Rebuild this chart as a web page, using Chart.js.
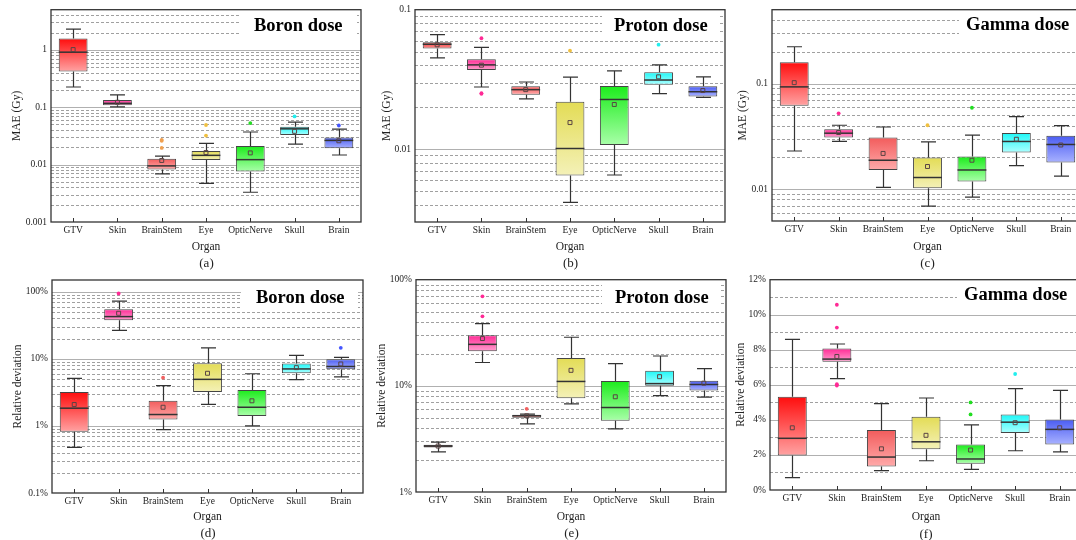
<!DOCTYPE html>
<html><head><meta charset="utf-8">
<script src="https://cdn.jsdelivr.net/npm/chart.js@4/dist/chart.umd.min.js"></script>
<style>
html,body{margin:0;padding:0;background:#fff;overflow:hidden;width:1076px;height:540px;position:relative}
.lab{position:absolute;font:13px "Liberation Serif","Times New Roman",serif;color:#222;transform:translate(-50%,-50%);white-space:nowrap}
</style></head><body>
<script>
// ---------------- DATA ----------------
const organs = ['GTV','Skin','BrainStem','Eye','OpticNerve','Skull','Brain'];

// (a) Boron dose, MAE (Gy)
const aMin  = [0.225, 0.101, 0.0069, 0.0047, 0.0033, 0.0228, 0.0147];
const aQ1   = [0.42, 0.108, 0.0082, 0.012, 0.0076, 0.0327, 0.0192];
const aMed  = [0.91, 0.117, 0.0095, 0.0145, 0.0122, 0.042, 0.0264];
const aQ3   = [1.57, 0.134, 0.0126, 0.0173, 0.021, 0.0456, 0.0298];
const aMax  = [2.3, 0.164, 0.014, 0.0234, 0.037, 0.055, 0.0415];
const aMean = [1.01, 0.122, 0.0118, 0.0162, 0.016, 0.038, 0.026];
const aOut  = [[], [], [0.027, 0.026, 0.0195], [0.049, 0.032], [0.053], [0.069], [0.048]];
const aTicks = [0.001, 0.01, 0.1, 1];

// (b) Proton dose, MAE (Gy)
const bMin  = [0.0451, 0.0279, 0.0229, 0.00415, 0.00652, 0.025, 0.0235];
const bQ1   = [0.0526, 0.037, 0.0245, 0.00647, 0.0107, 0.029, 0.0238];
const bMed  = [0.0565, 0.0402, 0.0267, 0.0101, 0.0227, 0.0313, 0.0258];
const bQ3   = [0.0583, 0.0441, 0.0282, 0.0219, 0.0284, 0.0356, 0.0282];
const bMax  = [0.0662, 0.0537, 0.0303, 0.0328, 0.0364, 0.0402, 0.033];
const bMean = [0.056, 0.040, 0.0267, 0.0155, 0.0209, 0.033, 0.0263];
const bOut  = [[], [0.0624, 0.0252, 0.0249], [], [0.0508], [], [0.0561], []];
const bTicks = [0.01, 0.1];

// (c) Gamma dose, MAE (Gy)
const cMin  = [0.023, 0.0283, 0.0104, 0.0069, 0.0084, 0.0167, 0.0133];
const cQ1   = [0.0617, 0.0308, 0.0152, 0.0102, 0.0118, 0.0223, 0.0179];
const cMed  = [0.093, 0.0339, 0.0188, 0.0129, 0.0152, 0.0283, 0.0265];
const cQ3   = [0.159, 0.0369, 0.0308, 0.02, 0.0204, 0.0341, 0.032];
const cMax  = [0.223, 0.0403, 0.0388, 0.0281, 0.0325, 0.0486, 0.04];
const cMean = [0.102, 0.0344, 0.0218, 0.0164, 0.0188, 0.0297, 0.0262];
const cOut  = [[], [0.0522], [], [0.0403], [0.059], [], []];
const cTicks = [0.01, 0.1];

// (d) Boron dose, relative deviation (%)
const dMin  = [0.48, 26.6, 0.88, 2.1, 1.0, 4.9, 5.4];
const dQ1   = [0.82, 37.6, 1.245, 3.2, 1.41, 6.1, 7.0];
const dMed  = [1.84, 42.7, 1.48, 4.95, 1.9, 7.08, 7.7];
const dQ3   = [3.2, 55, 2.37, 8.6, 3.43, 8.5, 9.9];
const dMax  = [5.13, 72.4, 3.98, 14.6, 6.0, 11.3, 10.5];
const dMean = [2.09, 47.9, 1.9, 6.1, 2.37, 7.4, 8.4];
const dOut  = [[], [94.4], [5.25], [], [], [], [14.6]];
const dTicks = [0.1, 1, 10, 100];

// (e) Proton dose, relative deviation (%)
const eMin  = [2.39, 16.6, 4.39, 6.77, 3.94, 8.1, 7.82];
const eQ1   = [2.63, 21.2, 5.0, 7.66, 4.69, 10.0, 9.04];
const eMed  = [2.71, 24.6, 5.22, 11.0, 6.25, 10.5, 10.3];
const eQ3   = [2.79, 29.9, 5.34, 18.3, 11.1, 13.9, 11.2];
const eMax  = [2.95, 38.6, 5.42, 28.7, 16.2, 19.1, 14.5];
const eMean = [2.71, 27.9, 5.22, 14.0, 7.89, 12.2, 10.6];
const eOut  = [[], [69.7, 45.2], [6.08], [], [], [], []];
const eTicks = [1, 10, 100];

// (f) Gamma dose, relative deviation (%)
const fMin  = [0.71, 6.36, 1.11, 1.67, 1.18, 2.24, 2.18];
const fQ1   = [1.97, 7.32, 1.34, 2.33, 1.5, 3.25, 2.6];
const fMed  = [2.95, 7.47, 1.88, 2.75, 1.77, 3.87, 3.46];
const fQ3   = [5.32, 8.07, 3.42, 4.18, 2.6, 4.31, 4.02];
const fMax  = [8.6, 8.33, 4.93, 5.25, 3.72, 5.79, 5.68];
const fMean = [3.55, 7.62, 2.35, 3.12, 2.28, 3.84, 3.55];
const fOut  = [[], [10.57, 9.27, 6.04, 5.96], [], [], [4.31, 5.0], [6.62], []];
const fTicks = [0, 2, 4, 6, 8, 10, 12];

// ---------------- STYLE ----------------
const baseFill = [
  ['#ff0d0d', '#ffa3a3'],
  ['#ff2a95', '#ff9fce'],
  ['#f25c5c', '#ffaaaa'],
  ['#e3dc55', '#f4f1b8'],
  ['#1cec1c', '#a9ffa9'],
  ['#1cf7f7', '#adffff'],
  ['#4a5cf2', '#a9b2ff']
];
const baseOut = ['#ff2020', '#ff2a95', '#f26060', '#f0c040', '#22dd22', '#22eeee', '#4455ff'];

Chart.defaults.font.family = '"Liberation Serif","Times New Roman",serif';
Chart.defaults.color = '#222';

function logGrid(min, max) {
  const major = [], minor = [];
  for (let e = Math.floor(Math.log10(min)); e <= Math.ceil(Math.log10(max)); e++) {
    for (let k = 1; k <= 9; k++) {
      const v = +(k * Math.pow(10, e)).toPrecision(6);
      if (v <= min * 1.0001 || v >= max * 0.9999) continue;
      (k === 1 ? major : minor).push(v);
    }
  }
  return {major, minor};
}

const boxPlugin = {
  id: 'boxExtras',
  beforeDatasetsDraw(chart, args, o) {
    const {ctx, chartArea: a, scales: {y}} = chart;
    ctx.save();
    ctx.lineWidth = 1;
    ctx.strokeStyle = '#a0a0a0';
    ctx.setLineDash([3, 2]);
    o.minor.forEach(v => {
      const p = Math.round(y.getPixelForValue(v)) + 0.5;
      ctx.beginPath(); ctx.moveTo(a.left, p); ctx.lineTo(a.right, p); ctx.stroke();
    });
    ctx.setLineDash([]);
    ctx.strokeStyle = '#b0b0b0';
    o.major.forEach(v => {
      const p = Math.round(y.getPixelForValue(v)) + 0.5;
      ctx.beginPath(); ctx.moveTo(a.left, p); ctx.lineTo(a.right, p); ctx.stroke();
    });
    ctx.fillStyle = '#fff';
    ctx.fillRect(o.box[0], o.box[1], o.box[2] - o.box[0], o.box[3] - o.box[1]);
    ctx.fillStyle = '#000';
    ctx.font = 'bold 18.5px "Liberation Serif","Times New Roman",serif';
    ctx.textAlign = 'left';
    ctx.textBaseline = 'middle';
    ctx.fillText(o.title, o.tx, o.ty);
    ctx.restore();
  },
  afterDatasetDraw(chart, args, o) {
    if (args.meta.type !== 'bar') return;
    const {ctx, scales: {y}} = chart;
    ctx.save();
    ctx.strokeStyle = '#333';
    args.meta.data.forEach((bar, i) => {
      const cx = Math.round(bar.x) + 0.5, hw = bar.width / 2, cap = bar.width * 0.26;
      const pMax = y.getPixelForValue(o.max[i]), pMin = y.getPixelForValue(o.min[i]);
      const pQ3 = y.getPixelForValue(o.q3[i]), pQ1 = y.getPixelForValue(o.q1[i]);
      const pMed = y.getPixelForValue(o.med[i]);
      ctx.lineWidth = 1.2;
      ctx.beginPath();
      ctx.moveTo(cx, pQ3); ctx.lineTo(cx, pMax);
      ctx.moveTo(cx - cap, pMax); ctx.lineTo(cx + cap, pMax);
      ctx.moveTo(cx, pQ1); ctx.lineTo(cx, pMin);
      ctx.moveTo(cx - cap, pMin); ctx.lineTo(cx + cap, pMin);
      ctx.stroke();
      ctx.lineWidth = 1.5;
      ctx.beginPath();
      ctx.moveTo(bar.x - hw, pMed); ctx.lineTo(bar.x + hw, pMed);
      ctx.stroke();
    });
    ctx.restore();
  },
  afterDraw(chart) {
    const {ctx, chartArea: a, scales: {x}} = chart;
    ctx.save();
    ctx.strokeStyle = '#333';
    ctx.lineWidth = 1.3;
    ctx.strokeRect(a.left, a.top, a.right - a.left, a.bottom - a.top);
    ctx.lineWidth = 1;
    organs.forEach((_, i) => {
      const px = Math.round(x.getPixelForValue(i)) + 0.5;
      ctx.beginPath(); ctx.moveTo(px, a.bottom); ctx.lineTo(px, a.bottom - 4); ctx.stroke();
    });
    ctx.restore();
  }
};

function makePanel(p) {
  const cv = document.createElement('canvas');
  cv.width = p.w; cv.height = p.h;
  cv.style.cssText = `position:absolute;left:${p.left}px;top:${p.top}px;width:${p.w}px;height:${p.h}px`;
  document.body.appendChild(cv);

  const fills = baseFill.map((f, i) => (p.fillOverride && p.fillOverride[i]) || f);
  const outCols = baseOut.map((c, i) => (p.outOverride && p.outOverride[i]) || c);

  const outData = [], outColors = [];
  p.out.forEach((arr, i) => arr.forEach(v => { outData.push({x: organs[i], y: v}); outColors.push(outCols[i]); }));

  const grid = p.log ? logGrid(p.min, p.max) : {major: p.major, minor: p.minor};

  const yScale = {
    type: p.log ? 'logarithmic' : 'linear',
    min: p.min, max: p.max,
    afterBuildTicks: s => { s.ticks = p.ticks.map(v => ({value: v})); },
    afterFit: s => { s.width = p.area.l - p.left; },
    ticks: {
      callback: p.fmt, autoSkip: false, padding: 4, color: '#222',
      font: {size: 9.5}
    },
    grid: {display: false, drawTicks: false},
    border: {display: false},
    title: {display: true, text: p.ytitle, color: '#222', font: {size: 11.5}, padding: {top: p.ytPad, bottom: 0}}
  };

  new Chart(cv, {
    type: 'bar',
    data: {
      labels: organs,
      datasets: [
        {
          type: 'scatter', order: 0,
          data: outData,
          pointStyle: 'circle', radius: 1.9, borderWidth: 0,
          backgroundColor: outColors
        },
        {
          type: 'scatter', order: 1,
          data: organs.map((o, i) => ({x: o, y: p.mean[i]})),
          pointStyle: 'rect', radius: 2.8, borderWidth: 1,
          borderColor: '#5a4444', backgroundColor: 'rgba(0,0,0,0)'
        },
        {
          type: 'bar', order: 3,
          data: organs.map((o, i) => [p.q1[i], p.q3[i]]),
          backgroundColor: (c) => {
            const i = c.dataIndex;
            const ch = c.chart;
            if (i === undefined || !ch.chartArea) return fills[0][0];
            const y = ch.scales.y;
            const t = y.getPixelForValue(p.q3[i]), b = y.getPixelForValue(p.q1[i]);
            if (!isFinite(t) || !isFinite(b) || Math.abs(b - t) < 0.5) return fills[i][0];
            const g = ch.ctx.createLinearGradient(0, t, 0, b);
            g.addColorStop(0, fills[i][0]);
            g.addColorStop(1, fills[i][1]);
            return g;
          },
          borderColor: '#444', borderWidth: 1, borderSkipped: false,
          barPercentage: 0.65, categoryPercentage: 1
        }
      ]
    },
    options: {
      responsive: false, animation: false, events: [],
      layout: {padding: {left: 0, right: p.left + p.w - p.area.r, top: p.area.t - p.top, bottom: 0}},
      plugins: {
        legend: {display: false}, tooltip: {enabled: false},
        boxExtras: {
          minor: grid.minor, major: grid.major,
          min: p.lo, q1: p.q1, med: p.med, q3: p.q3, max: p.hi,
          title: p.title, tx: p.tx - p.left, ty: p.ty - p.top,
          box: [p.box[0] - p.left, p.box[1] - p.top, p.box[2] - p.left, p.box[3] - p.top]
        }
      },
      scales: {
        x: {
          type: 'category', offset: true,
          afterFit: s => { s.height = p.top + p.h - p.area.b; },
          ticks: {autoSkip: false, maxRotation: 0, minRotation: 0, padding: 3, color: '#222', font: {size: 9.5}},
          grid: {display: false, drawTicks: false, offset: true},
          border: {display: false},
          title: {display: true, text: 'Organ', color: '#222', font: {size: 11.5}, padding: {top: 0, bottom: 17}}
        },
        y: yScale
      }
    },
    plugins: [boxPlugin]
  });

  const lab = document.createElement('div');
  lab.className = 'lab';
  lab.textContent = p.tag;
  lab.style.left = ((p.area.l + p.area.r) / 2) + 'px';
  lab.style.top = p.tagY + 'px';
  document.body.appendChild(lab);
}

const fmtNum = v => String(v);
const fmtPct = v => v + '%';

makePanel({left: 0, top: 0, w: 366, h: 271, area: {l: 51, r: 362, t: 9, b: 222},
  log: true, min: 0.001, max: 5, ticks: aTicks, fmt: fmtNum, ytitle: 'MAE (Gy)', ytPad: 10,
  lo: aMin, q1: aQ1, med: aMed, q3: aQ3, hi: aMax, mean: aMean, out: aOut,
  outOverride: {2: '#f0a050'},
  title: 'Boron dose', tx: 254, ty: 26, box: [240, 10, 357, 39], tag: '(a)', tagY: 263});

makePanel({left: 366, top: 0, w: 364, h: 271, area: {l: 415, r: 726, t: 9, b: 222},
  log: true, min: 0.003, max: 0.1, ticks: bTicks, fmt: fmtNum, ytitle: 'MAE (Gy)', ytPad: 14,
  lo: bMin, q1: bQ1, med: bMed, q3: bQ3, hi: bMax, mean: bMean, out: bOut,
  fillOverride: {0: ['#f04646', '#ff8c8c']},
  title: 'Proton dose', tx: 614, ty: 26, box: [602, 10, 718, 39], tag: '(b)', tagY: 263});

makePanel({left: 730, top: 0, w: 360, h: 271, area: {l: 772, r: 1083, t: 7, b: 221},
  log: true, min: 0.005, max: 0.5, ticks: cTicks, fmt: fmtNum, ytitle: 'MAE (Gy)', ytPad: 6,
  lo: cMin, q1: cQ1, med: cMed, q3: cQ3, hi: cMax, mean: cMean, out: cOut,
  title: 'Gamma dose', tx: 966, ty: 25, box: [959, 8, 1080, 38], tag: '(c)', tagY: 263});

makePanel({left: 0, top: 270, w: 368, h: 271, area: {l: 52, r: 364, t: 280, b: 493},
  log: true, min: 0.1, max: 150, ticks: dTicks, fmt: fmtPct, ytitle: 'Relative deviation', ytPad: 11,
  lo: dMin, q1: dQ1, med: dMed, q3: dQ3, hi: dMax, mean: dMean, out: dOut,
  title: 'Boron dose', tx: 256, ty: 298, box: [241, 281, 358, 310], tag: '(d)', tagY: 533});

makePanel({left: 368, top: 270, w: 363, h: 271, area: {l: 416, r: 727, t: 279, b: 492},
  log: true, min: 1, max: 100, ticks: eTicks, fmt: fmtPct, ytitle: 'Relative deviation', ytPad: 7,
  lo: eMin, q1: eQ1, med: eMed, q3: eQ3, hi: eMax, mean: eMean, out: eOut,
  fillOverride: {0: ['#4a0808', '#6e1414']},
  title: 'Proton dose', tx: 615, ty: 298, box: [602, 281, 719, 309], tag: '(e)', tagY: 533});

makePanel({left: 731, top: 270, w: 360, h: 271, area: {l: 770, r: 1082, t: 277, b: 490},
  log: false, min: 0, max: 12, ticks: fTicks, fmt: fmtPct, ytitle: 'Relative deviation', ytPad: 3,
  major: [2, 4, 6, 8, 10], minor: [1, 3, 5, 7, 9, 11],
  lo: fMin, q1: fQ1, med: fMed, q3: fQ3, hi: fMax, mean: fMean, out: fOut,
  title: 'Gamma dose', tx: 964, ty: 295, box: [957, 279, 1080, 308], tag: '(f)', tagY: 534});
</script>
</body></html>
